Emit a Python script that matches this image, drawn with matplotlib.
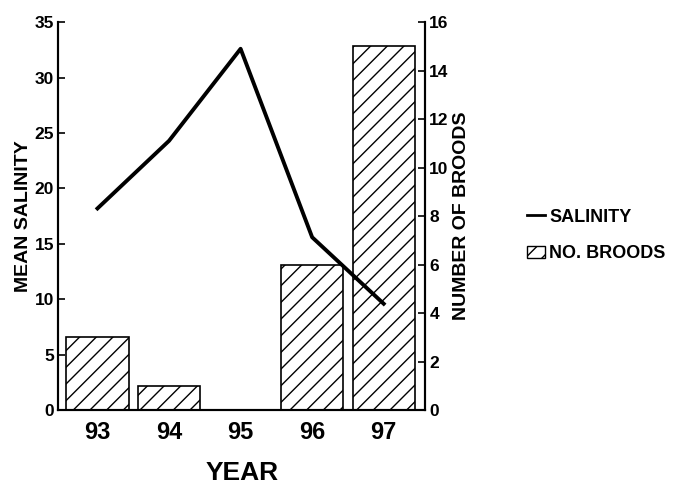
import matplotlib
matplotlib.use("Agg")
import matplotlib.pyplot as plt
from matplotlib.lines import Line2D
from matplotlib.patches import Patch

years = ["93", "94", "95", "96", "97"]
salinity = [18.2, 24.3, 32.6, 15.6, 9.6]
broods = [3, 1, 0, 6, 15]

plt.rcParams['font.family'] = ['Liberation Sans', 'DejaVu Sans']
plt.rcParams['font.weight'] = 'bold'
plt.rcParams['hatch.linewidth'] = 1.0

fig = plt.figure(figsize=(6.76, 4.93), dpi=100)
ax = fig.add_axes([0.086, 0.168, 0.543, 0.787])
ax2 = ax.twinx()

x = list(range(len(years)))
ax2.bar(x, broods, width=0.87, facecolor='white', edgecolor='black',
        hatch='//', linewidth=1.2, zorder=1)
ax.plot(x, salinity, color='black', linewidth=2.8, zorder=5)

ax.set_zorder(ax2.get_zorder() + 1)
ax.patch.set_visible(False)

ax.set_xlim(-0.55, 4.58)
ax.set_ylim(0, 35)
ax2.set_ylim(0, 16)
ax.set_yticks(range(0, 36, 5))
ax2.set_yticks(range(0, 17, 2))
ax.set_xticks(x)
ax.set_xticklabels(years, fontsize=17, fontweight='bold')
ax.tick_params(axis='x', length=0, pad=8)
ax.tick_params(axis='y', direction='in', labelsize=12.5, length=5, width=1.2, pad=3)
ax2.tick_params(axis='y', direction='in', labelsize=12.5, length=5, width=1.2, pad=3)

for a in (ax, ax2):
    a.spines['top'].set_visible(False)
    for s in ('left', 'right', 'bottom'):
        a.spines[s].set_linewidth(1.5)

ax.set_ylabel("MEAN SALINITY", fontsize=14, fontweight='bold', labelpad=2)
ax2.set_ylabel("NUMBER OF BROODS", fontsize=14, fontweight='bold', labelpad=3)
ax.set_xlabel("YEAR", fontsize=19, fontweight='bold', labelpad=12)

handles = [Line2D([0], [0], color='black', linewidth=2),
           Patch(facecolor='white', edgecolor='black', hatch='//')]
fig.legend(handles, ["SALINITY", "NO. BROODS"], loc='upper left',
           bbox_to_anchor=(0.755, 0.61), frameon=False,
           handlelength=1.0, handletextpad=0.25, labelspacing=1.1,
           prop={'weight': 'bold', 'size': 13})

fig.savefig("out.png", dpi=100)
